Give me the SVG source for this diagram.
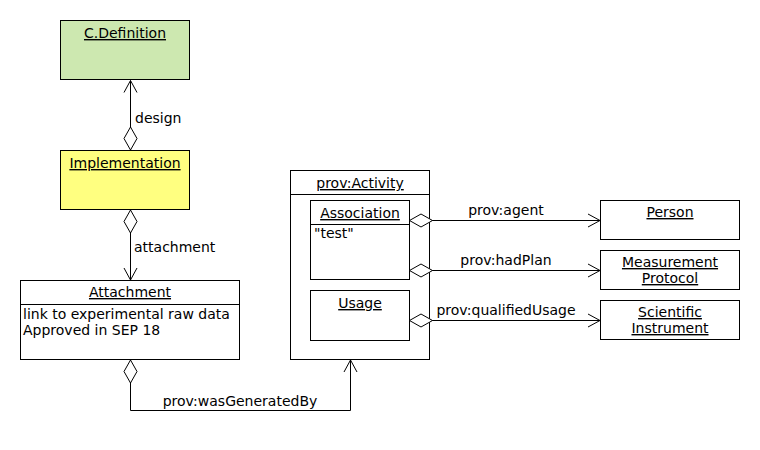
<svg xmlns="http://www.w3.org/2000/svg" width="760" height="450" viewBox="0 0 760 450">
<style>
text{font-family:"DejaVu Sans","Liberation Sans",sans-serif;font-size:14px;fill:#000}
.t{text-anchor:middle;text-decoration:underline}
.m{text-anchor:middle}
.box{stroke:#000;stroke-width:1;fill:#fff}
.ln{stroke:#000;stroke-width:1;fill:none}
.c{stroke:#000;stroke-width:1;fill:none;marker-start:url(#dia);marker-end:url(#arr)}
</style>
<defs>
<marker id="arr" markerUnits="userSpaceOnUse" orient="auto" refX="0" refY="0" markerWidth="16" markerHeight="16" overflow="visible">
<path d="M-12,-6.5 L0,0 L-12,6.5" fill="none" stroke="#000" stroke-width="1"/>
</marker>
<marker id="dia" markerUnits="userSpaceOnUse" orient="auto" refX="0" refY="0" markerWidth="26" markerHeight="16" overflow="visible">
<path d="M0,0 L11.5,-6.5 L23,0 L11.5,6.5 Z" fill="#fff" stroke="#000" stroke-width="1"/>
</marker>
</defs>
<rect width="760" height="450" fill="#fff"/>
<g id="cdefinition">
<rect class="box" x="60.5" y="20.5" width="129" height="59" style="fill:#cde8b0"/>
<text class="t" x="125" y="38">C.Definition</text>
</g>
<g id="implementation">
<rect class="box" x="60.5" y="150.5" width="129" height="59" style="fill:#ffff80"/>
<text class="t" x="125" y="168">Implementation</text>
</g>
<g id="attachment-node">
<rect class="box" x="20.5" y="280.5" width="219" height="79"/>
<path class="ln" d="M20.5,304.5 H239.5"/>
<text class="t" x="130" y="297">Attachment</text>
<text x="23" y="319">link to experimental raw data</text>
<text x="23" y="335">Approved in SEP 18</text>
</g>
<g id="activity">
<rect class="box" x="290.5" y="170.5" width="139" height="189"/>
<path class="ln" d="M290.5,194.5 H429.5"/>
<text class="t" x="360" y="188">prov:Activity</text>
</g>
<g id="association">
<rect class="box" x="310.5" y="200.5" width="99" height="79"/>
<path class="ln" d="M310.5,224.5 H409.5"/>
<text class="t" x="360" y="218">Association</text>
<text x="314" y="238">"test"</text>
</g>
<g id="usage">
<rect class="box" x="310.5" y="290.5" width="99" height="50"/>
<text class="t" x="360" y="308">Usage</text>
</g>
<g id="person">
<rect class="box" x="600.5" y="200.5" width="139" height="39"/>
<text class="t" x="670" y="217">Person</text>
</g>
<g id="measurement-protocol">
<rect class="box" x="600.5" y="250.5" width="139" height="39"/>
<text class="t" x="670" y="267">Measurement</text>
<text class="t" x="670" y="283">Protocol</text>
</g>
<g id="scientific-instrument">
<rect class="box" x="600.5" y="300.5" width="139" height="39"/>
<text class="t" x="670" y="317">Scientific</text>
<text class="t" x="670" y="333">Instrument</text>
</g>
<g id="connectors">
<path class="c" d="M130.5,150 L130.5,80.5"/>
<text x="135" y="123">design</text>
<path class="c" d="M130.5,210 L130.5,280"/>
<text x="134" y="252">attachment</text>
<path class="c" d="M130.5,360 L130.5,410.5 L350.5,410.5 L350.5,360"/>
<text class="m" x="240" y="406">prov:wasGeneratedBy</text>
<path class="c" d="M409.5,220.5 L600,220.5"/>
<text class="m" x="506" y="215">prov:agent</text>
<path class="c" d="M409.5,270.5 L600,270.5"/>
<text class="m" x="506" y="265">prov:hadPlan</text>
<path class="c" d="M409.5,320.5 L600,320.5"/>
<text class="m" x="506" y="315">prov:qualifiedUsage</text>
</g>
</svg>
